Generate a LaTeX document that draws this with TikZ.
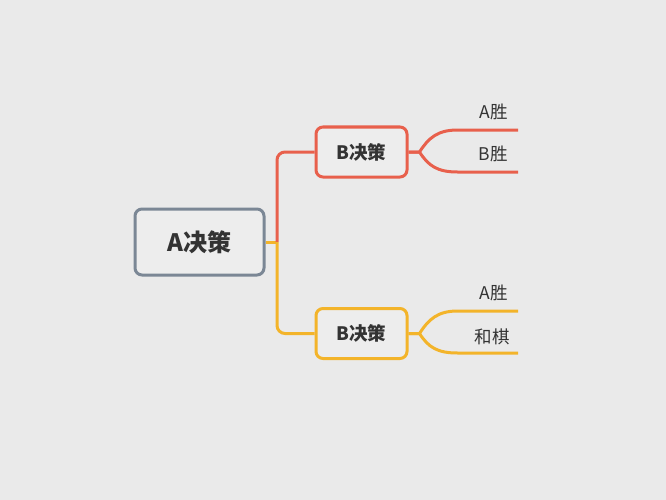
\documentclass[tikz,border=0pt]{standalone}
\usepackage{fontspec}
\setmainfont{Noto Sans CJK SC}
\usepackage{xcolor}
\usepackage{tikz}
\usetikzlibrary{positioning}
\definecolor{BgGray}{HTML}{EAEAEA}
\definecolor{BoxFill}{HTML}{EDEDED}
\definecolor{RootGray}{HTML}{7B8795}
\definecolor{BranchRed}{HTML}{E8604C}
\definecolor{BranchGold}{HTML}{F3B42A}
\definecolor{TextDark}{HTML}{333333}

\begin{document}
\begin{tikzpicture}[x=1pt, y=-1pt, line width=3pt,
		rootbox/.style={draw=RootGray, fill=BoxFill, rounded corners=7pt, minimum width=129pt, minimum height=66pt, text=TextDark, font=\fontsize{24}{28}\selectfont\bfseries},
		decbox/.style={fill=BoxFill, rounded corners=7pt, minimum width=91pt, minimum height=50pt, text=TextDark, font=\fontsize{18.5}{22}\selectfont\bfseries},
		leaf/.style={anchor=east, inner sep=0pt, text=TextDark, font=\fontsize{17.5}{21}\selectfont}]
		
		% background
		\fill[BgGray] (0,0) rectangle (666,500);
		
		% nodes
		\node[rootbox] (root) at (199.5,242) {A决策};
		\node[decbox, draw=BranchRed] (bTop) at (361.5,152) {B决策};
		\node[decbox, draw=BranchGold] (bBot) at (361.5,333.5) {B决策};
		
		% branches from the root
		\coordinate (fork) at (277,242);
		\draw[BranchGold] (root.east) -- (fork);
		\draw[BranchRed, rounded corners=8pt] (fork) |- (bTop.west);
		\draw[BranchGold, rounded corners=8pt] (fork) |- (bBot.west);
		
		% outcome line ends
		\coordinate (tipA1) at (518,130);
		\coordinate (tipB1) at (518,172);
		\coordinate (tipA2) at (518,311);
		\coordinate (tipD2) at (518,353);
		
		% outcomes of the upper B node
		\draw[BranchRed] (bTop.east) -- ++(11,0) .. controls +(9,-14) and +(-20,0) .. ++(38,-22) -- (tipA1);
		\draw[BranchRed] (bTop.east) -- ++(11,0) .. controls +(9,14) and +(-20,0) .. ++(38,20) -- (tipB1);
		\node[leaf] (winA1) at (509,112) {A胜};
		\node[leaf] (winB1) at (509,154) {B胜};
		
		% outcomes of the lower B node
		\draw[BranchGold] (bBot.east) -- ++(11,0) .. controls +(9,-14) and +(-20,0) .. ++(38,-22.5) -- (tipA2);
		\draw[BranchGold] (bBot.east) -- ++(11,0) .. controls +(9,14) and +(-20,0) .. ++(38,19.5) -- (tipD2);
		\node[leaf] (winA2) at (509,293) {A胜};
		\node[leaf] (draw2) at (511,337) {和棋};
		
	\end{tikzpicture}
\end{document}
